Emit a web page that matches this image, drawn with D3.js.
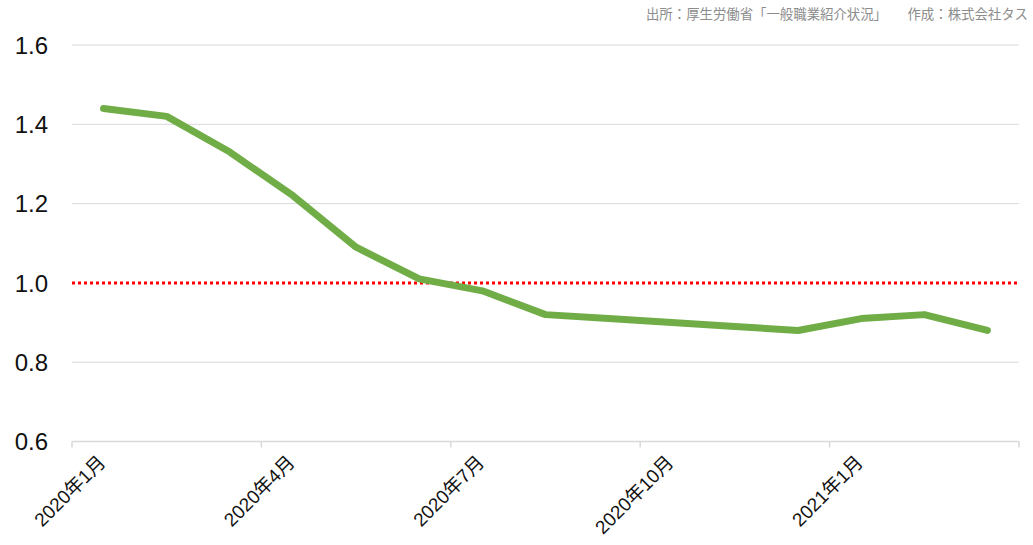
<!DOCTYPE html>
<html><head><meta charset="utf-8">
<script src="https://cdn.jsdelivr.net/npm/d3@7"></script>
<style>
html,body{margin:0;padding:0;background:#fff;}
svg{display:block;}
text{font-family:"Liberation Sans","Noto Sans CJK JP",sans-serif;}
</style></head>
<body>
<svg id="chart" width="1033" height="545"></svg>
<script>
const categories = ["2020年1月","2020年2月","2020年3月","2020年4月","2020年5月","2020年6月","2020年7月","2020年8月","2020年9月","2020年10月","2020年11月","2020年12月","2021年1月","2021年2月","2021年3月"];
const values = [1.44,1.42,1.33,1.22,1.09,1.01,0.98,0.92,0.91,0.90,0.89,0.88,0.91,0.92,0.88];
const yTicks = [0.6,0.8,1.0,1.2,1.4,1.6];
const xLabelCats = ["2020年1月","2020年4月","2020年7月","2020年10月","2021年1月"];
const refValue = 1.0;
const sourceText = "出所：厚生労働省「一般職業紹介状況」";
const creditText = "作成：株式会社タス";

(function(){
const svg = d3.select("#chart");
const mLeft = 72, mRight = 1019, mTop = 45, mBottom = 441.5;

const x = d3.scaleBand().domain(categories).range([mLeft, mRight]).padding(0);
const y = d3.scaleLinear().domain([0.6, 1.6]).range([mBottom, mTop]);

// gridlines
svg.append("g").selectAll("line").data(yTicks.filter(d => d !== 0.6 && d !== refValue))
  .join("line")
  .attr("x1", mLeft).attr("x2", mRight)
  .attr("y1", d => y(d)).attr("y2", d => y(d))
  .attr("stroke", "#d9d9d9").attr("stroke-width", 1);

// y labels
svg.append("g").selectAll("text").data(yTicks).join("text")
  .attr("x", 48).attr("y", d => y(d))
  .attr("dy", "0.36em")
  .attr("text-anchor", "end")
  .attr("font-size", 24)
  .attr("fill", "#111")
  .text(d => d.toFixed(1));

// bottom axis line
svg.append("line")
  .attr("x1", mLeft).attr("x2", mRight)
  .attr("y1", mBottom).attr("y2", mBottom)
  .attr("stroke", "#d9d9d9").attr("stroke-width", 1.5);

// tick marks at band boundaries every 3 categories
const tickPos = [];
categories.forEach((c, i) => { if (i % 3 === 0) tickPos.push(x(c)); });
tickPos.push(mRight);
svg.append("g").selectAll("line").data(tickPos).join("line")
  .attr("x1", d => d).attr("x2", d => d)
  .attr("y1", mBottom).attr("y2", mBottom + 6)
  .attr("stroke", "#d9d9d9").attr("stroke-width", 1.5);

// x labels
svg.append("g").selectAll("text").data(xLabelCats).join("text")
  .attr("transform", d => `translate(${x(d) + x.bandwidth()/2 + 3},${mBottom + 22}) rotate(-45)`)
  .attr("text-anchor", "end")
  .attr("font-size", 19)
  .attr("fill", "#111")
  .text(d => d);

// reference line
svg.append("line")
  .attr("x1", mLeft).attr("x2", mRight)
  .attr("y1", y(refValue)).attr("y2", y(refValue))
  .attr("stroke", "#ff0000").attr("stroke-width", 3)
  .attr("stroke-dasharray", "3,3");

// data line
const line = d3.line()
  .x((d, i) => x(categories[i]) + x.bandwidth()/2)
  .y(d => y(d));
svg.append("path").datum(values)
  .attr("d", line)
  .attr("fill", "none")
  .attr("stroke", "#70ad47")
  .attr("stroke-width", 7)
  .attr("stroke-linecap", "round")
  .attr("stroke-linejoin", "round");

// source text
svg.append("text").attr("x", 1028).attr("y", 19)
  .attr("text-anchor", "end").attr("font-size", 13.4).attr("fill", "#8c8c8c")
  .text(creditText);
svg.append("text").attr("x", 887).attr("y", 19)
  .attr("text-anchor", "end").attr("font-size", 13.4).attr("fill", "#8c8c8c")
  .text(sourceText);
})();
</script>
</body></html>
